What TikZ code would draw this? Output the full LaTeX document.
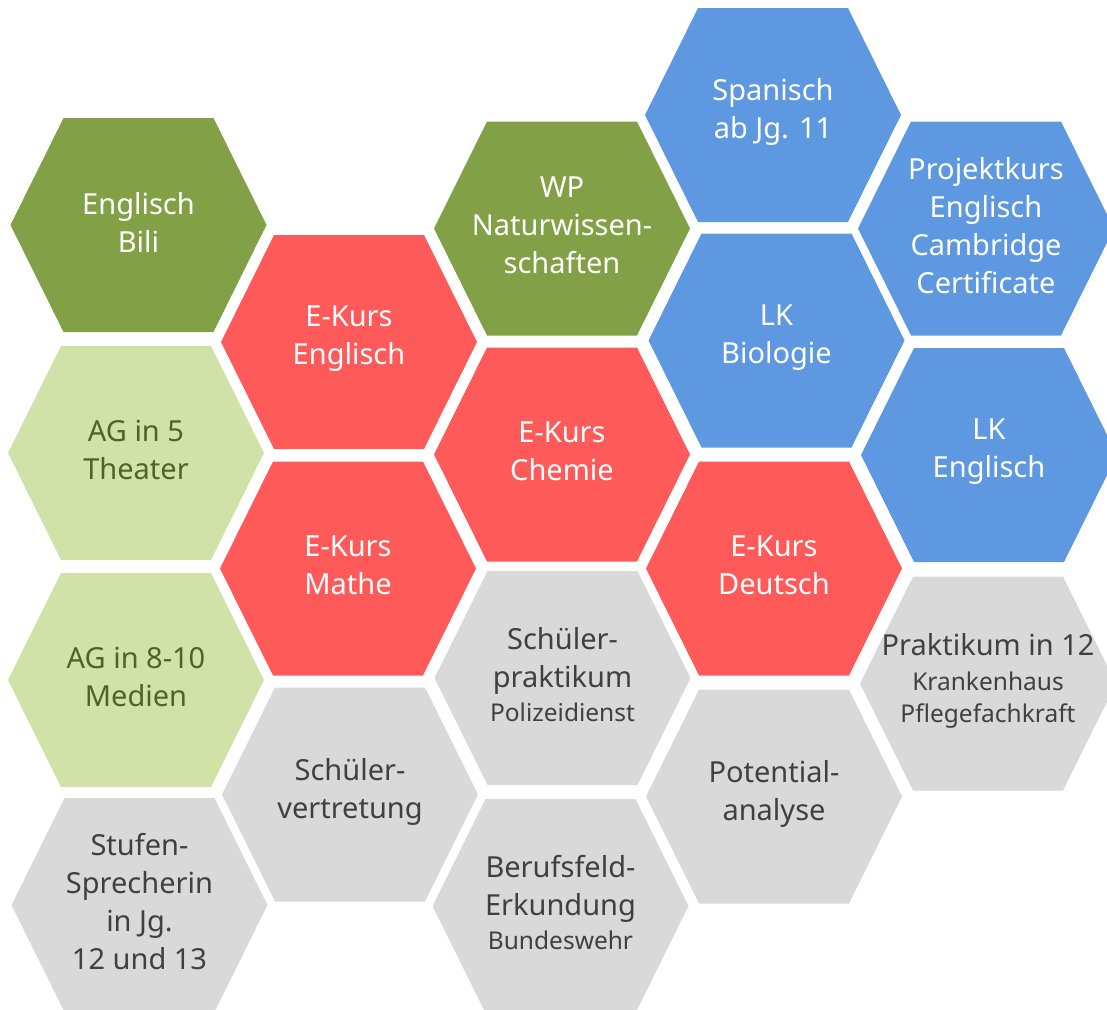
\documentclass[tikz,border=0pt]{standalone}
\usepackage{fontspec}
\setmainfont{Noto Sans}
\definecolor{DG}{RGB}{130,160,70}
\definecolor{LG}{RGB}{208,226,168}
\definecolor{RD}{RGB}{255,90,90}
\definecolor{BL}{RGB}{94,152,224}
\definecolor{GR}{RGB}{217,217,217}
\definecolor{OL}{RGB}{79,98,40}
\definecolor{DK}{RGB}{64,64,64}
\newcommand{\smalltxt}{\fontsize{24.5}{32}\selectfont}
\newcommand{\hexcell}[6]{%
  \fill[fill=#4] (#2,#3) ++(-128,0) -- ++(53,-107) -- ++(150,0) -- ++(53,107)
     -- ++(-53,107) -- ++(-150,0) -- cycle;
  \node[hexlabel, text=#5] (#1) at (#2,#3) {#6};}
\begin{document}
\begin{tikzpicture}[x=1pt,y=-1pt,
  hexlabel/.style={align=center, inner sep=0pt, yshift=3pt, font=\fontsize{29}{38}\selectfont}]
\useasboundingbox (0,0) rectangle (1107,1009);
\hexcell{bili}{138.5}{225}{DG}{white}{Englisch\\Bili}
\hexcell{theater}{136}{453}{LG}{OL}{AG in 5\\Theater}
\hexcell{medien}{136}{680}{LG}{OL}{AG in 8-10\\Medien}
\hexcell{stufen}{139.5}{905}{GR}{DK}{Stufen-\\Sprecherin\\in Jg.\\12 und 13}
\hexcell{ekenglisch}{349}{342}{RD}{white}{E-Kurs\\Englisch}
\hexcell{ekmathe}{348}{568.5}{RD}{white}{E-Kurs\\Mathe}
\hexcell{sv}{350}{794.5}{GR}{DK}{Schüler-\\vertretung}
\hexcell{wp}{562}{228.5}{DG}{white}{WP\\Naturwissen-\\schaften}
\hexcell{chemie}{562}{454.5}{RD}{white}{E-Kurs\\Chemie}
\hexcell{spraktikum}{562.5}{678}{GR}{DK}{Schüler-\\praktikum\\[-4pt]{\smalltxt Polizeidienst}}
\hexcell{berufsfeld}{560.5}{906}{GR}{DK}{Berufsfeld-\\Erkundung\\[-4pt]{\smalltxt Bundeswehr}}
\hexcell{spanisch}{773}{115}{BL}{white}{Spanisch\\ab Jg. 11}
\hexcell{lkbio}{776.5}{340.5}{BL}{white}{LK\\Biologie}
\hexcell{ekdeutsch}{774}{568.5}{RD}{white}{E-Kurs\\Deutsch}
\hexcell{potential}{774}{796.5}{GR}{DK}{Potential-\\analyse}
\hexcell{projekt}{986}{228.5}{BL}{white}{Projektkurs\\Englisch\\Cambridge\\Certificate}
\hexcell{lkenglisch}{989}{455}{BL}{white}{LK\\Englisch}
\hexcell{praktikum}{988}{683.5}{GR}{DK}{Praktikum in 12\\[-3pt]{\smalltxt Krankenhaus}\\[-6pt]{\smalltxt Pflegefachkraft}}
\end{tikzpicture}
\end{document}
